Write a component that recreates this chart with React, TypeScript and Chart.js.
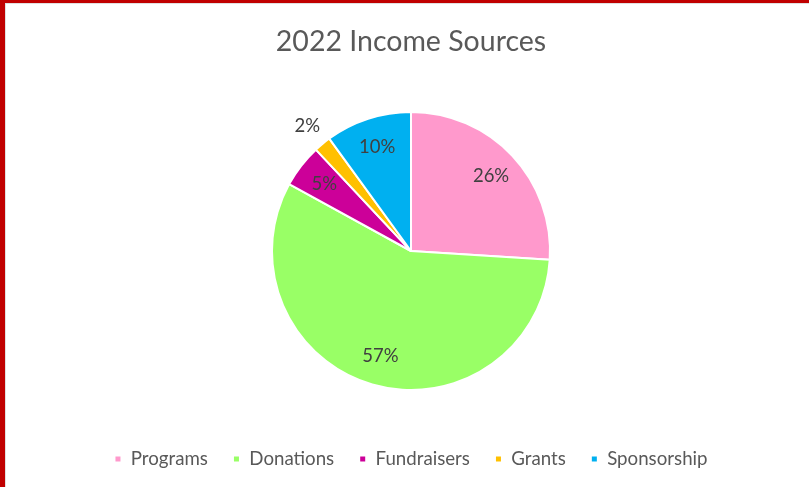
import React, { useEffect, useRef } from "react";
import { Chart, registerables } from "chart.js";

Chart.register(...registerables);

const categories = ["Programs", "Donations", "Fundraisers", "Grants", "Sponsorship"];
const shares = [26, 57, 5, 2, 10];
const sliceColors = ["#FF99CC", "#99FF66", "#CC0099", "#FFC000", "#00B0F0"];
const titleText = "2022 Income Sources";

const FONT = "Lato, 'Open Sans', sans-serif";

const labelPlugin = {
  id: "sliceLabels",
  afterDatasetsDraw(chart: any) {
    const meta = chart.getDatasetMeta(0);
    const data = chart.data.datasets[0].data as number[];
    const total = data.reduce((a: number, b: number) => a + b, 0);
    const ctx = chart.ctx;
    ctx.save();
    ctx.font = `18.5px ${FONT}`;
    ctx.fillStyle = "#404040";
    ctx.textAlign = "center";
    ctx.textBaseline = "middle";
    meta.data.forEach((arc: any, i: number) => {
      const p = arc.getProps(["x", "y", "startAngle", "endAngle", "outerRadius"], true);
      const mid = (p.startAngle + p.endAngle) / 2;
      const pct = (data[i] / total) * 100;
      const f = pct < 3 ? 1.17 : 0.79;
      const r = p.outerRadius * f;
      const x = p.x + Math.cos(mid) * r;
      const y = p.y + Math.sin(mid) * r;
      ctx.fillText(`${Math.round(pct)}%`, x, y);
    });
    ctx.restore();
  },
};

export default function App() {
  const ref = useRef<HTMLCanvasElement>(null);

  useEffect(() => {
    document.body.style.margin = "0";
    const chart = new Chart(ref.current!, {
      type: "pie",
      data: {
        labels: categories,
        datasets: [
          {
            data: shares,
            backgroundColor: sliceColors,
            borderColor: "#FFFFFF",
            borderWidth: 2,
            radius: 139,
          } as any,
        ],
      },
      options: {
        animation: false,
        responsive: true,
        maintainAspectRatio: false,
        layout: { padding: { left: 13, right: 0, top: 0, bottom: 8.65 } },
        plugins: {
          title: {
            display: true,
            text: titleText,
            color: "#595959",
            font: { family: FONT, size: 28.5, weight: "normal" },
            padding: { top: 24.9, bottom: 18.25 },
          },
          legend: {
            position: "bottom",
            labels: {
              boxWidth: 7,
              boxHeight: 7,
              padding: 25,
              color: "#595959",
              font: { family: FONT, size: 18.7 },
            },
          },
          tooltip: { enabled: false },
        },
      },
      plugins: [labelPlugin],
    });
    return () => chart.destroy();
  }, []);

  return (
    <div style={{ position: "relative", width: 809, height: 487, background: "#fff", overflow: "hidden" }}>
      <canvas ref={ref} />
      <div style={{ position: "absolute", left: 0, top: 0, width: 809, height: 3, background: "#C00000" }} />
      <div style={{ position: "absolute", left: 5, top: 3, width: 804, height: 1, background: "#E0E0E0" }} />
      <div style={{ position: "absolute", left: 0, top: 0, width: 5, height: 487, background: "#C00000" }} />
      <div style={{ position: "absolute", left: 5, top: 3, width: 1, height: 484, background: "#E0E0E0" }} />
    </div>
  );
}
